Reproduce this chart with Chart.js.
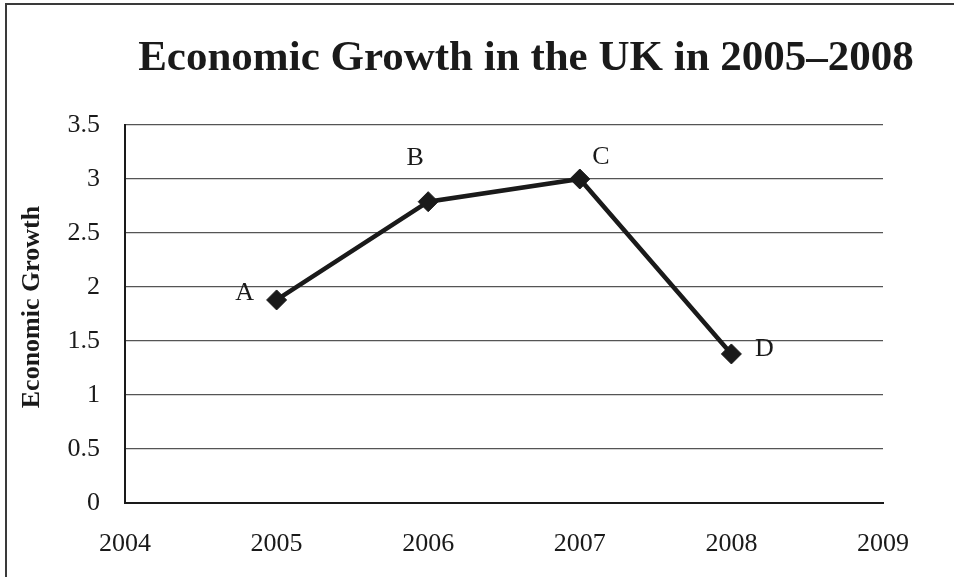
<!DOCTYPE html>
<html>
<head>
<meta charset="utf-8">
<script src="https://cdn.jsdelivr.net/npm/chart.js@4/dist/chart.umd.min.js"></script>
<style>
  html, body { margin: 0; padding: 0; background: #ffffff; }
  #wrap { position: relative; width: 954px; height: 577px; }
</style>
</head>
<body>
<div id="wrap"><canvas id="c" width="954" height="577"></canvas></div>
<script>
// ---- data ----
const chartTitle = 'Economic Growth in the UK in 2005–2008';
const yAxisTitle = 'Economic Growth';
const years = [2005, 2006, 2007, 2008];
const growth = [1.88, 2.79, 3.0, 1.38];
const pointLabels = ['A', 'B', 'C', 'D'];
const xTicks = [2004, 2005, 2006, 2007, 2008, 2009];
const yTicks = [0, 0.5, 1, 1.5, 2, 2.5, 3, 3.5];

const SERIF = '"Liberation Serif", "Times New Roman", Times, serif';

const points = years.map((y, i) => ({ x: y, y: growth[i] }));

// label offsets (styling) for A, B, C, D
const labelOffsets = [[-32, -7], [-13, -44], [21, -22], [33, -5]];

const decorPlugin = {
  id: 'decor',
  beforeDraw(chart) {
    const ctx = chart.ctx;
    ctx.save();
    ctx.fillStyle = '#ffffff';
    ctx.fillRect(0, 0, chart.width, chart.height);
    ctx.restore();
  },
  afterDraw(chart) {
    const ctx = chart.ctx;
    ctx.save();
    // outer frame (top and left edges visible)
    ctx.strokeStyle = '#3a3a3a';
    ctx.lineWidth = 2;
    ctx.beginPath();
    ctx.moveTo(6, chart.height);
    ctx.lineTo(6, 4);
    ctx.lineTo(chart.width, 4);
    ctx.stroke();
    // title
    ctx.fillStyle = '#1a1a1a';
    ctx.font = 'bold 43px ' + SERIF;
    ctx.textAlign = 'center';
    ctx.textBaseline = 'alphabetic';
    ctx.fillText(chartTitle, 526, 70);
    // y axis title
    ctx.save();
    ctx.translate(39, 307);
    ctx.rotate(-Math.PI / 2);
    ctx.font = 'bold 26px ' + SERIF;
    ctx.textAlign = 'center';
    ctx.textBaseline = 'alphabetic';
    ctx.fillText(yAxisTitle, 0, 0);
    ctx.restore();
    // point labels
    const meta = chart.getDatasetMeta(0);
    ctx.font = '26px ' + SERIF;
    ctx.textAlign = 'center';
    ctx.textBaseline = 'middle';
    meta.data.forEach((el, i) => {
      const off = labelOffsets[i];
      ctx.fillText(pointLabels[i], el.x + off[0], el.y + off[1]);
    });
    ctx.restore();
  }
};

new Chart(document.getElementById('c'), {
  type: 'line',
  data: {
    datasets: [{
      data: points,
      borderColor: '#1a1a1a',
      backgroundColor: '#1a1a1a',
      borderWidth: 4.5,
      pointStyle: 'rectRot',
      pointRadius: 10,
      pointHoverRadius: 10,
      pointBorderWidth: 1,
      pointBackgroundColor: '#1a1a1a',
      pointBorderColor: '#1a1a1a',
      tension: 0,
      fill: false
    }]
  },
  options: {
    responsive: false,
    animation: false,
    devicePixelRatio: 1,
    layout: { padding: { top: 125, right: 71, bottom: 0, left: 0 } },
    plugins: {
      legend: { display: false },
      title: { display: false },
      tooltip: { enabled: false }
    },
    scales: {
      x: {
        type: 'linear',
        min: xTicks[0],
        max: xTicks[xTicks.length - 1],
        afterBuildTicks(scale) { scale.ticks = xTicks.map(v => ({ value: v })); },
        afterFit(scale) { scale.height = 74; },
        grid: { display: false, drawTicks: false },
        border: { display: true, color: '#1a1a1a', width: 2 },
        ticks: {
          color: '#1a1a1a',
          font: { family: SERIF, size: 26 },
          padding: 26,
          maxRotation: 0,
          autoSkip: false,
          callback: v => String(v)
        }
      },
      y: {
        min: yTicks[0],
        max: yTicks[yTicks.length - 1],
        afterBuildTicks(scale) { scale.ticks = yTicks.map(v => ({ value: v })); },
        afterFit(scale) { scale.width = 125; },
        grid: { color: '#555555', lineWidth: 1.2, drawTicks: false },
        border: { display: true, color: '#1a1a1a', width: 2 },
        title: { display: false },
        ticks: {
          color: '#1a1a1a',
          font: { family: SERIF, size: 26 },
          padding: 25,
          autoSkip: false,
          callback: v => String(v)
        }
      }
    }
  },
  plugins: [decorPlugin]
});
</script>
</body>
</html>
